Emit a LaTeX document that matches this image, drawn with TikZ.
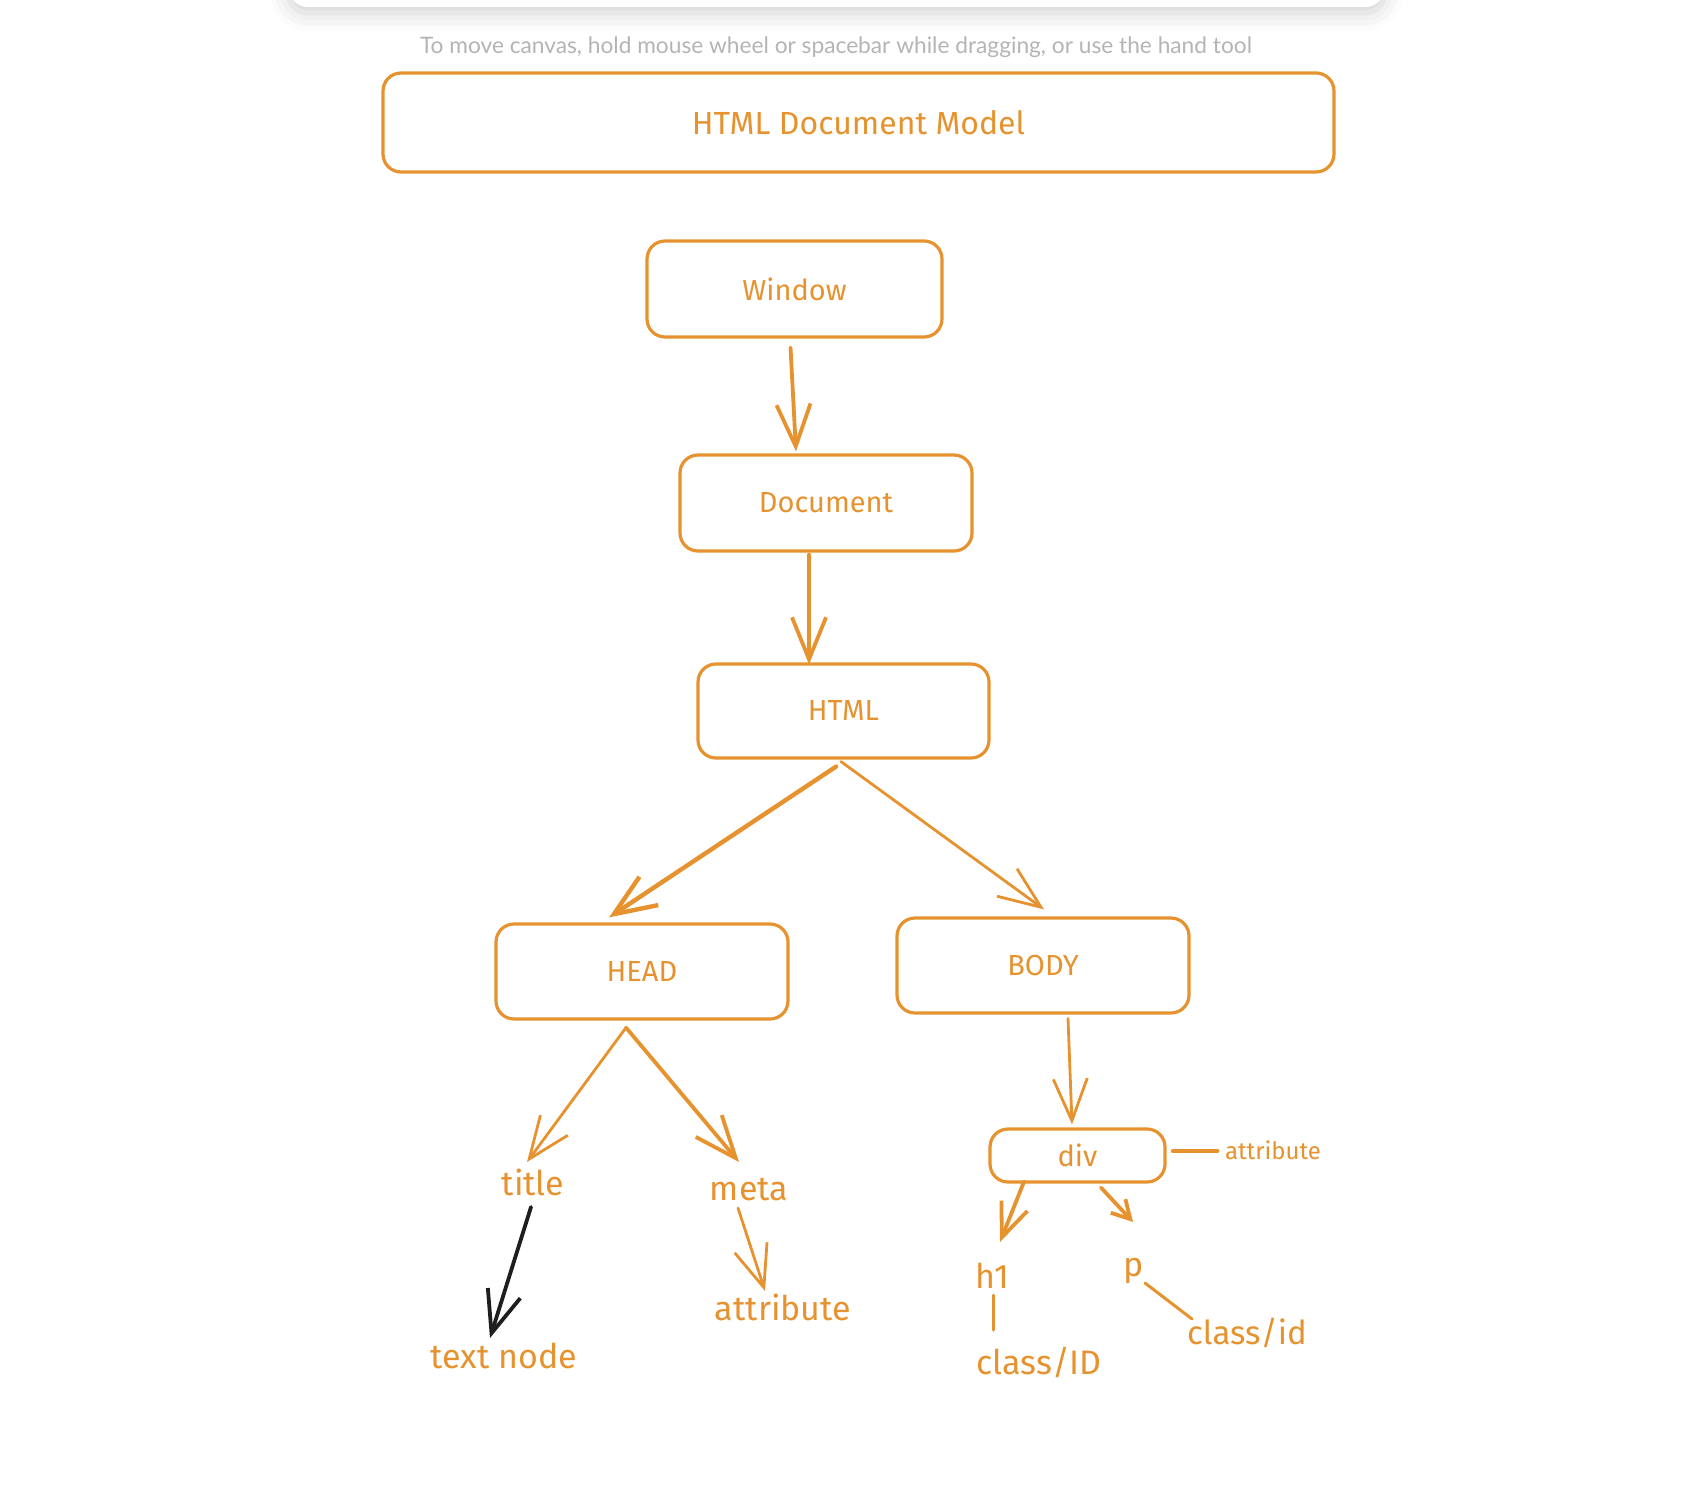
\documentclass[tikz,border=0pt]{standalone}
\usepackage{fontspec}
\setmainfont{Fira Sans}
\newfontfamily\hintfont{Lato}
\usetikzlibrary{arrows.meta,calc,shadows.blur}
\definecolor{ink}{HTML}{E5922F}
\definecolor{hintgray}{HTML}{B4B4B4}
\definecolor{pen}{HTML}{1E1E1E}
\begin{document}
\begin{tikzpicture}[x=0.5pt,y=-0.5pt,
  box/.style={draw=ink, line width=1.6pt, rounded corners=9pt, text=ink,
    font=\fontsize{14.5}{17}\selectfont, inner sep=0pt},
  lbl/.style={text=ink, inner sep=0pt, font=\fontsize{17}{20}\selectfont},
  small/.style={text=ink, inner sep=0pt, font=\fontsize{12}{14}\selectfont},
  arr/.style={draw=ink, line width=1.9pt, line cap=round, line join=round,
    -{Straight Barb[length=21pt,width=17pt]}},
  thinarr/.style={arr, line width=1.4pt},
  smallarr/.style={arr, -{Straight Barb[length=9pt,width=10pt]}},
  link/.style={draw=ink, line width=1.5pt, line cap=round},
]
\useasboundingbox (0,0) rectangle (1684,1492);

% toolbar card and canvas hint
\path[fill=white, rounded corners=10pt,
  blur shadow={shadow xshift=0pt, shadow yshift=-3pt, shadow blur radius=9pt, shadow opacity=18}]
  (288,-60) rectangle (1385,7);
\node (hint) at (836,47) {\hintfont\fontsize{11.35}{13}\selectfont\color{hintgray}To move canvas, hold mouse wheel or spacebar while dragging, or use the hand tool};

% title banner
\node[box, minimum width=475.5pt, minimum height=49.5pt, font=\fontsize{16}{19}\selectfont] (banner) at (858.5,122.5) {HTML Document Model};

% main boxes
\node[box, minimum width=147.5pt, minimum height=48pt] (win) at (794.5,289) {Window};
\node[box, minimum width=146pt, minimum height=48pt] (doc) at (826,503) {Document};
\node[box, minimum width=145.5pt, minimum height=47pt] (html) at (843.5,711) {HTML};
\node[box, minimum width=146pt, minimum height=47.5pt] (head) at (642,971.5) {HEAD};
\node[box, minimum width=146pt, minimum height=47.5pt] (body) at (1043,965.5) {BODY};
\node[box, minimum width=87.5pt, minimum height=26.5pt] (div) at (1077.5,1155.5) {div};

% free labels
\node[lbl] (title) at (533,1182) {title};
\node[lbl] (meta) at (749,1190) {meta};
\node[lbl] (textnode) at (504,1356) {text node};
\node[lbl] (mattr) at (783,1307) {attribute};
\node[lbl] (h1) at (992,1276) {h1};
\node[lbl] (p) at (1134,1271) {p};
\node[lbl] (classID) at (1039,1363) {class/ID};
\node[lbl, font=\fontsize{16.5}{20}\selectfont] (classid) at (1247,1333) {class/id};
\node[small] (dattr) at (1273,1150) {attribute};

% connectors
\draw[arr] ($(win.south)+(-4,9)$) -- ($(doc.north)+(-30,-2)$);
\draw[arr] ($(doc.south)+(-17,2)$) -- ($(html.north)+(-34.5,2)$);
\draw[arr, line width=2.2pt] ($(html.south)+(-7.5,7)$) -- ($(head.north)+(-33,-5)$);
\draw[thinarr] ($(html.south)+(-2.5,2)$) -- ($(body.north)+(1,-7)$);
\draw[thinarr] ($(head.south)+(-16,7)$) -- ($(title.center)+(-6,-20)$);
\draw[arr] ($(head.south)+(-16,7)$) -- ($(meta.center)+(-10,-28)$);
\draw[thinarr] ($(body.south)+(25,4)$) -- ($(div.north)+(-5.5,-3)$);
\draw[arr, draw=pen] ($(title.center)+(-2,25)$) -- ($(textnode.center)+(-14,-18)$);
\draw[thinarr] ($(meta.center)+(-11,18)$) -- ($(mattr.center)+(-18,-16)$);
\draw[arr, -{Straight Barb[length=17pt,width=14pt]}] ($(div.south)+(-53.5,-2)$) -- ($(h1.center)+(8,-34)$);
\draw[smallarr] ($(div.south)+(23.5,4)$) -- ($(p.center)+(-1,-49)$);
\draw[link] ($(h1.center)+(1,19)$) -- ($(classID.center)+(-46,-33)$);
\draw[link] ($(p.center)+(11,12)$) -- ($(classid.center)+(-55,-14)$);
\draw[link, line width=1.8pt] ($(div.east)+(6,-4.5)$) -- ($(dattr.west)+(-7,1)$);
\end{tikzpicture}
\end{document}
